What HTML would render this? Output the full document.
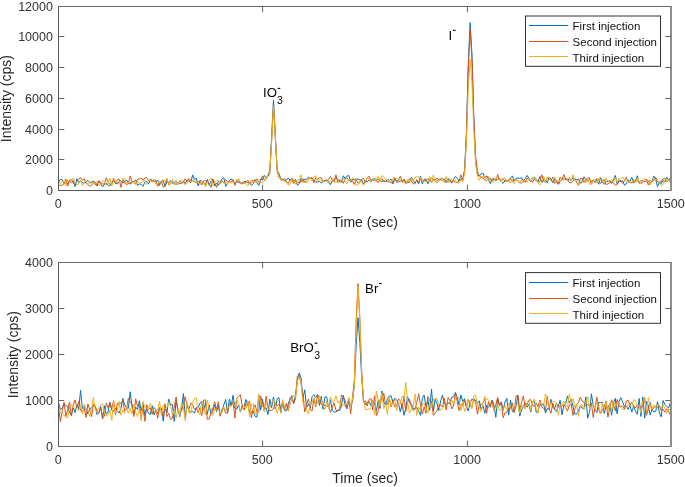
<!DOCTYPE html>
<html><head><meta charset="utf-8"><style>
html,body{margin:0;padding:0;background:#fff;width:685px;height:487px;overflow:hidden;}
svg{display:block;will-change:transform;font-family:"Liberation Sans",sans-serif;}
</style></head><body>
<svg width="685" height="487" viewBox="0 0 685 487">
<rect width="685" height="487" fill="#fff"/>
<clipPath id="c6"><rect x="58.5" y="6.5" width="612.5" height="184.0"/></clipPath>
<g clip-path="url(#c6)" fill="none" stroke-width="1.00" stroke-linejoin="round">
<path d="M58.50,182.29L60.34,179.25L62.17,179.56L64.01,183.55L65.85,183.06L67.69,183.59L69.53,181.06L71.36,182.50L73.20,180.66L75.04,186.62L76.88,178.77L78.71,182.60L80.55,180.81L82.39,182.69L84.22,183.25L86.06,181.31L87.90,180.48L89.74,182.84L91.58,182.72L93.41,180.80L95.25,184.38L97.09,185.86L98.92,181.46L100.76,183.92L102.60,186.79L104.44,184.25L106.28,183.45L108.11,185.12L109.95,185.81L111.79,182.29L113.62,180.31L115.46,182.91L117.30,184.08L119.14,181.49L120.97,180.72L122.81,183.06L124.65,181.12L126.49,179.97L128.32,182.85L130.16,184.24L132.00,181.57L133.84,181.80L135.68,179.85L137.51,185.33L139.35,183.90L141.19,184.30L143.03,186.36L144.86,182.08L146.70,181.16L148.54,184.07L150.38,179.19L152.21,180.48L154.05,180.93L155.89,181.45L157.72,180.18L159.56,185.44L161.40,180.96L163.24,180.99L165.07,186.44L166.91,181.58L168.75,182.95L170.59,180.58L172.43,183.38L174.26,182.42L176.10,181.58L177.94,184.39L179.78,181.00L181.61,182.61L183.45,181.24L185.29,183.57L187.12,179.88L188.96,180.98L190.80,182.78L192.64,174.94L194.47,179.48L196.31,178.25L198.15,185.99L199.99,180.34L201.82,181.30L203.66,182.59L205.50,184.69L207.34,179.48L209.18,185.28L211.01,181.07L212.85,179.38L214.69,186.05L216.53,183.07L218.36,185.38L220.20,181.81L222.04,178.89L223.88,177.72L225.71,186.46L227.55,183.70L229.39,180.76L231.22,178.74L233.06,181.40L234.90,184.09L236.74,181.69L238.57,182.41L240.41,182.84L242.25,184.06L244.09,181.48L245.93,181.67L247.76,182.59L249.60,182.88L251.44,185.33L253.28,183.49L255.11,179.59L256.95,182.77L258.79,185.53L260.62,178.90L262.46,180.12L264.30,175.39L266.14,177.96L267.98,176.33L269.81,173.28L271.65,136.21L273.49,100.03L275.32,134.74L277.16,170.27L279.00,173.44L280.84,179.03L282.68,179.59L284.51,180.77L286.35,179.93L288.19,177.90L290.02,180.29L291.86,178.26L293.70,181.34L295.54,179.63L297.38,185.30L299.21,183.71L301.05,178.55L302.89,181.74L304.73,179.05L306.56,179.13L308.40,177.34L310.24,178.51L312.07,178.04L313.91,180.64L315.75,181.99L317.59,182.06L319.43,181.50L321.26,182.98L323.10,181.64L324.94,180.59L326.77,179.80L328.61,181.16L330.45,184.80L332.29,180.55L334.12,179.86L335.96,177.89L337.80,179.05L339.64,181.86L341.48,182.04L343.31,175.76L345.15,178.64L346.99,176.17L348.82,175.48L350.66,182.26L352.50,179.49L354.34,179.33L356.18,179.09L358.01,179.13L359.85,179.92L361.69,179.98L363.52,183.84L365.36,180.76L367.20,182.10L369.04,180.09L370.88,181.46L372.71,178.96L374.55,178.50L376.39,179.67L378.23,179.65L380.06,180.17L381.90,181.41L383.74,180.76L385.57,181.52L387.41,179.49L389.25,180.35L391.09,179.04L392.93,183.44L394.76,178.34L396.60,182.13L398.44,182.07L400.27,180.83L402.11,181.68L403.95,179.71L405.79,181.70L407.62,182.84L409.46,182.33L411.30,177.36L413.14,180.28L414.98,183.07L416.81,180.36L418.65,183.96L420.49,176.26L422.32,183.89L424.16,179.28L426.00,179.13L427.84,183.72L429.68,179.69L431.51,178.09L433.35,179.30L435.19,179.78L437.02,178.20L438.86,180.01L440.70,179.61L442.54,180.67L444.38,178.93L446.21,182.55L448.05,178.56L449.89,181.54L451.73,182.89L453.56,179.54L455.40,176.49L457.24,178.17L459.07,181.56L460.91,178.69L462.75,180.14L464.59,170.14L466.43,132.90L468.26,64.92L470.10,22.60L471.94,54.09L473.77,115.57L475.61,161.24L477.45,174.85L479.29,176.00L481.12,173.79L482.96,173.11L484.80,177.81L486.64,175.90L488.48,179.44L490.31,183.53L492.15,179.06L493.99,178.57L495.82,180.71L497.66,179.13L499.50,178.57L501.34,181.92L503.18,183.37L505.01,180.51L506.85,180.51L508.69,180.85L510.52,177.78L512.36,176.09L514.20,181.02L516.04,178.46L517.88,177.90L519.71,178.43L521.55,177.66L523.39,180.97L525.23,178.37L527.06,175.42L528.90,178.22L530.74,181.50L532.58,178.68L534.41,177.17L536.25,179.22L538.09,181.37L539.92,176.52L541.76,182.95L543.60,178.92L545.44,180.11L547.27,182.82L549.11,177.27L550.95,179.27L552.79,182.76L554.62,178.69L556.46,181.07L558.30,184.45L560.14,181.66L561.98,179.47L563.81,178.61L565.65,179.69L567.49,179.97L569.33,179.00L571.16,180.60L573.00,177.44L574.84,179.84L576.67,179.54L578.51,179.00L580.35,182.71L582.19,181.94L584.02,176.83L585.86,179.61L587.70,181.06L589.54,179.66L591.38,181.59L593.21,179.87L595.05,182.08L596.89,179.94L598.73,184.24L600.56,177.58L602.40,181.86L604.24,184.35L606.08,181.26L607.91,181.63L609.75,180.46L611.59,183.48L613.42,179.96L615.26,175.39L617.10,183.88L618.94,180.20L620.77,181.72L622.61,180.60L624.45,185.24L626.29,183.75L628.12,180.08L629.96,181.26L631.80,177.45L633.64,182.86L635.48,180.87L637.31,175.79L639.15,183.10L640.99,183.45L642.83,181.49L644.66,181.54L646.50,179.53L648.34,181.21L650.17,183.28L652.01,181.08L653.85,176.08L655.69,178.71L657.52,186.73L659.36,182.03L661.20,183.75L663.04,180.34L664.88,182.20L666.71,177.39L668.55,179.73L670.39,179.85" stroke="#0072BD"/>
<path d="M58.50,185.59L60.34,185.14L62.17,185.37L64.01,183.81L65.85,179.04L67.69,186.06L69.53,180.20L71.36,179.47L73.20,183.19L75.04,183.99L76.88,181.29L78.71,179.58L80.55,177.42L82.39,180.32L84.22,178.71L86.06,183.41L87.90,184.38L89.74,186.33L91.58,185.03L93.41,183.21L95.25,181.93L97.09,185.39L98.92,180.50L100.76,182.61L102.60,183.85L104.44,184.13L106.28,177.73L108.11,181.98L109.95,184.44L111.79,184.57L113.62,178.15L115.46,183.70L117.30,179.64L119.14,179.10L120.97,187.43L122.81,179.27L124.65,182.85L126.49,184.87L128.32,183.62L130.16,176.01L132.00,181.51L133.84,181.39L135.68,184.04L137.51,179.43L139.35,178.92L141.19,178.15L143.03,180.07L144.86,178.02L146.70,177.56L148.54,180.75L150.38,180.35L152.21,181.03L154.05,181.11L155.89,180.39L157.72,186.30L159.56,183.12L161.40,181.25L163.24,187.22L165.07,185.69L166.91,178.73L168.75,184.81L170.59,183.44L172.43,181.51L174.26,183.47L176.10,184.35L177.94,183.56L179.78,183.36L181.61,183.71L183.45,181.95L185.29,178.67L187.12,181.55L188.96,178.64L190.80,180.67L192.64,180.45L194.47,181.02L196.31,183.06L198.15,181.40L199.99,181.68L201.82,184.93L203.66,180.65L205.50,181.04L207.34,181.53L209.18,183.66L211.01,187.43L212.85,179.00L214.69,182.54L216.53,187.38L218.36,180.88L220.20,183.98L222.04,180.79L223.88,182.61L225.71,179.76L227.55,181.84L229.39,181.73L231.22,182.03L233.06,179.54L234.90,185.35L236.74,179.67L238.57,180.79L240.41,183.65L242.25,182.38L244.09,183.40L245.93,182.24L247.76,180.21L249.60,183.94L251.44,180.66L253.28,180.21L255.11,180.90L256.95,178.74L258.79,182.40L260.62,180.39L262.46,175.92L264.30,180.14L266.14,178.60L267.98,175.67L269.81,169.83L271.65,140.33L273.49,103.87L275.32,137.88L277.16,171.65L279.00,177.17L280.84,179.95L282.68,180.09L284.51,178.45L286.35,181.26L288.19,183.46L290.02,179.78L291.86,179.98L293.70,183.60L295.54,180.04L297.38,182.85L299.21,181.83L301.05,182.08L302.89,178.49L304.73,182.28L306.56,181.12L308.40,179.96L310.24,178.01L312.07,177.67L313.91,182.73L315.75,177.66L317.59,179.70L319.43,177.63L321.26,177.96L323.10,181.61L324.94,180.29L326.77,181.06L328.61,179.52L330.45,176.58L332.29,180.25L334.12,181.91L335.96,174.86L337.80,182.67L339.64,180.38L341.48,180.41L343.31,183.30L345.15,178.56L346.99,177.94L348.82,180.57L350.66,180.25L352.50,180.75L354.34,184.43L356.18,179.82L358.01,183.24L359.85,182.58L361.69,179.47L363.52,178.25L365.36,182.37L367.20,177.76L369.04,176.32L370.88,179.99L372.71,180.55L374.55,179.91L376.39,181.30L378.23,182.34L380.06,178.89L381.90,178.72L383.74,181.52L385.57,181.30L387.41,181.80L389.25,181.98L391.09,182.60L392.93,183.83L394.76,178.30L396.60,181.18L398.44,180.22L400.27,176.26L402.11,181.49L403.95,179.05L405.79,183.47L407.62,181.81L409.46,178.79L411.30,180.98L413.14,183.66L414.98,183.90L416.81,179.62L418.65,182.52L420.49,178.84L422.32,179.77L424.16,181.13L426.00,180.55L427.84,178.68L429.68,180.32L431.51,182.56L433.35,179.64L435.19,181.21L437.02,180.93L438.86,179.10L440.70,179.65L442.54,178.09L444.38,180.82L446.21,181.44L448.05,181.17L449.89,179.54L451.73,182.22L453.56,181.22L455.40,182.31L457.24,182.16L459.07,180.80L460.91,174.85L462.75,180.03L464.59,169.80L466.43,134.97L468.26,68.82L470.10,29.50L471.94,58.30L473.77,117.85L475.61,156.18L477.45,170.56L479.29,176.08L481.12,177.26L482.96,178.03L484.80,180.27L486.64,175.91L488.48,177.98L490.31,178.02L492.15,181.74L493.99,178.57L495.82,180.94L497.66,174.39L499.50,180.10L501.34,179.31L503.18,179.05L505.01,181.07L506.85,180.90L508.69,180.92L510.52,178.14L512.36,181.69L514.20,180.42L516.04,179.33L517.88,180.99L519.71,183.13L521.55,182.74L523.39,181.01L525.23,182.24L527.06,177.92L528.90,180.05L530.74,180.14L532.58,182.34L534.41,178.91L536.25,180.89L538.09,182.22L539.92,181.52L541.76,174.76L543.60,181.45L545.44,182.03L547.27,177.52L549.11,178.44L550.95,180.73L552.79,177.02L554.62,183.37L556.46,181.17L558.30,183.76L560.14,177.05L561.98,180.01L563.81,174.55L565.65,179.08L567.49,179.05L569.33,182.65L571.16,182.80L573.00,181.30L574.84,178.24L576.67,182.62L578.51,185.31L580.35,178.49L582.19,178.39L584.02,182.52L585.86,179.53L587.70,178.05L589.54,177.98L591.38,184.14L593.21,180.54L595.05,182.45L596.89,178.61L598.73,180.60L600.56,183.54L602.40,180.65L604.24,179.60L606.08,184.43L607.91,184.04L609.75,182.57L611.59,181.77L613.42,182.40L615.26,185.27L617.10,184.72L618.94,181.33L620.77,180.35L622.61,183.30L624.45,180.96L626.29,177.14L628.12,181.86L629.96,182.41L631.80,183.03L633.64,180.41L635.48,180.98L637.31,180.95L639.15,182.38L640.99,180.64L642.83,180.66L644.66,181.93L646.50,179.04L648.34,185.16L650.17,180.08L652.01,182.00L653.85,179.85L655.69,177.48L657.52,181.67L659.36,182.24L661.20,181.88L663.04,178.74L664.88,178.41L666.71,181.54L668.55,180.48L670.39,177.91" stroke="#D95319"/>
<path d="M58.50,181.46L60.34,183.67L62.17,181.02L64.01,182.28L65.85,185.99L67.69,180.07L69.53,182.60L71.36,180.95L73.20,178.15L75.04,181.76L76.88,184.84L78.71,183.94L80.55,180.03L82.39,185.72L84.22,181.77L86.06,181.51L87.90,185.02L89.74,181.98L91.58,181.09L93.41,184.15L95.25,183.48L97.09,181.12L98.92,185.36L100.76,184.40L102.60,180.18L104.44,182.18L106.28,185.63L108.11,182.35L109.95,177.91L111.79,185.85L113.62,180.50L115.46,180.63L117.30,182.78L119.14,180.98L120.97,183.92L122.81,178.82L124.65,178.42L126.49,184.40L128.32,182.86L130.16,182.07L132.00,183.81L133.84,181.56L135.68,184.76L137.51,181.05L139.35,183.06L141.19,182.49L143.03,181.29L144.86,180.24L146.70,184.64L148.54,180.56L150.38,180.35L152.21,182.64L154.05,178.84L155.89,184.13L157.72,183.63L159.56,181.49L161.40,183.94L163.24,179.17L165.07,181.92L166.91,178.42L168.75,184.80L170.59,184.56L172.43,179.30L174.26,184.78L176.10,179.90L177.94,184.23L179.78,181.76L181.61,179.69L183.45,182.51L185.29,185.01L187.12,183.49L188.96,179.75L190.80,181.93L192.64,180.74L194.47,182.17L196.31,181.71L198.15,182.80L199.99,184.70L201.82,181.12L203.66,181.94L205.50,186.92L207.34,182.35L209.18,180.13L211.01,177.92L212.85,185.48L214.69,182.10L216.53,181.08L218.36,180.62L220.20,183.97L222.04,181.19L223.88,183.32L225.71,182.47L227.55,183.59L229.39,181.66L231.22,183.26L233.06,181.67L234.90,182.56L236.74,180.26L238.57,178.50L240.41,182.55L242.25,184.05L244.09,182.89L245.93,183.59L247.76,186.18L249.60,182.31L251.44,183.49L253.28,180.29L255.11,182.65L256.95,180.19L258.79,180.47L260.62,183.12L262.46,182.14L264.30,181.44L266.14,179.40L267.98,174.15L269.81,172.34L271.65,141.37L273.49,106.17L275.32,136.23L277.16,170.68L279.00,175.55L280.84,179.44L282.68,178.66L284.51,181.85L286.35,181.95L288.19,185.13L290.02,184.15L291.86,179.98L293.70,178.68L295.54,184.25L297.38,180.05L299.21,180.00L301.05,174.86L302.89,182.71L304.73,181.97L306.56,182.85L308.40,178.54L310.24,178.03L312.07,181.06L313.91,176.95L315.75,175.60L317.59,181.50L319.43,179.16L321.26,180.87L323.10,181.88L324.94,181.49L326.77,180.96L328.61,183.37L330.45,180.61L332.29,178.58L334.12,182.58L335.96,181.61L337.80,182.50L339.64,179.53L341.48,180.64L343.31,178.26L345.15,181.13L346.99,183.78L348.82,179.10L350.66,181.09L352.50,177.77L354.34,178.75L356.18,185.44L358.01,184.94L359.85,180.33L361.69,182.13L363.52,185.44L365.36,181.63L367.20,177.44L369.04,178.94L370.88,182.44L372.71,179.74L374.55,178.07L376.39,180.83L378.23,176.32L380.06,182.03L381.90,175.56L383.74,176.87L385.57,179.20L387.41,179.88L389.25,180.32L391.09,182.54L392.93,178.14L394.76,177.47L396.60,178.59L398.44,179.75L400.27,180.15L402.11,182.53L403.95,181.90L405.79,183.72L407.62,179.28L409.46,182.47L411.30,178.46L413.14,181.92L414.98,177.12L416.81,176.78L418.65,176.87L420.49,177.76L422.32,181.09L424.16,181.11L426.00,182.09L427.84,179.64L429.68,176.54L431.51,182.90L433.35,174.86L435.19,181.70L437.02,183.08L438.86,179.61L440.70,177.92L442.54,181.22L444.38,182.74L446.21,176.36L448.05,182.92L449.89,178.10L451.73,180.04L453.56,181.25L455.40,180.28L457.24,182.89L459.07,182.95L460.91,179.62L462.75,181.78L464.59,173.99L466.43,141.76L468.26,89.77L470.10,59.40L471.94,82.78L473.77,130.30L475.61,163.28L477.45,175.20L479.29,180.25L481.12,176.28L482.96,177.15L484.80,176.09L486.64,181.53L488.48,176.53L490.31,180.62L492.15,182.42L493.99,180.32L495.82,177.70L497.66,179.93L499.50,178.94L501.34,182.02L503.18,178.93L505.01,177.79L506.85,182.10L508.69,179.11L510.52,183.17L512.36,179.56L514.20,183.53L516.04,179.17L517.88,180.11L519.71,182.68L521.55,179.27L523.39,182.37L525.23,179.91L527.06,182.20L528.90,178.87L530.74,181.39L532.58,176.81L534.41,179.05L536.25,178.86L538.09,183.15L539.92,184.88L541.76,181.92L543.60,175.92L545.44,182.24L547.27,177.27L549.11,177.19L550.95,181.42L552.79,180.56L554.62,177.07L556.46,180.67L558.30,181.01L560.14,181.40L561.98,179.91L563.81,180.33L565.65,177.24L567.49,179.53L569.33,177.37L571.16,180.36L573.00,174.63L574.84,180.45L576.67,180.55L578.51,182.08L580.35,184.16L582.19,182.30L584.02,179.85L585.86,182.65L587.70,178.50L589.54,184.18L591.38,184.31L593.21,179.80L595.05,179.66L596.89,183.16L598.73,178.12L600.56,177.45L602.40,179.84L604.24,183.65L606.08,177.87L607.91,181.42L609.75,181.20L611.59,179.72L613.42,182.45L615.26,177.42L617.10,182.35L618.94,178.51L620.77,179.21L622.61,176.96L624.45,179.89L626.29,179.10L628.12,182.00L629.96,181.67L631.80,182.55L633.64,179.46L635.48,182.71L637.31,177.79L639.15,181.53L640.99,184.02L642.83,182.86L644.66,178.70L646.50,182.50L648.34,180.07L650.17,185.06L652.01,180.45L653.85,179.74L655.69,180.37L657.52,179.76L659.36,183.84L661.20,185.39L663.04,184.64L664.88,179.75L666.71,180.78L668.55,179.89L670.39,183.03" stroke="#EDB120"/>
</g>
<g fill="none" stroke-width="1">
<line x1="58.0" y1="6.5" x2="672.0" y2="6.5" stroke="#6a6a6a"/>
<line x1="58.0" y1="190.5" x2="672.0" y2="190.5" stroke="#585858"/>
<line x1="58.5" y1="6.5" x2="58.5" y2="190.5" stroke="#585858"/>
<line x1="671.0" y1="6.5" x2="671.0" y2="191.0" stroke="#8e8e8e" stroke-width="2"/>
</g>
<g stroke="#666" stroke-width="1" fill="none">
<line x1="262.60" y1="190.5" x2="262.60" y2="184.7"/>
<line x1="262.60" y1="6.5" x2="262.60" y2="12.3"/>
<line x1="467.40" y1="190.5" x2="467.40" y2="184.7"/>
<line x1="467.40" y1="6.5" x2="467.40" y2="12.3"/>
<line x1="58.5" y1="159.50" x2="64.3" y2="159.50"/>
<line x1="671.0" y1="159.50" x2="665.2" y2="159.50"/>
<line x1="58.5" y1="129.50" x2="64.3" y2="129.50"/>
<line x1="671.0" y1="129.50" x2="665.2" y2="129.50"/>
<line x1="58.5" y1="98.50" x2="64.3" y2="98.50"/>
<line x1="671.0" y1="98.50" x2="665.2" y2="98.50"/>
<line x1="58.5" y1="67.50" x2="64.3" y2="67.50"/>
<line x1="671.0" y1="67.50" x2="665.2" y2="67.50"/>
<line x1="58.5" y1="36.50" x2="64.3" y2="36.50"/>
<line x1="671.0" y1="36.50" x2="665.2" y2="36.50"/>
</g>
<g font-size="12.50" fill="#333">
<text x="58.20" y="208.3" text-anchor="middle">0</text>
<text x="262.30" y="208.3" text-anchor="middle">500</text>
<text x="467.10" y="208.3" text-anchor="middle">1000</text>
<text x="670.70" y="208.3" text-anchor="middle">1500</text>
<text x="52.9" y="194.50" text-anchor="end">0</text>
<text x="52.9" y="163.50" text-anchor="end">2000</text>
<text x="52.9" y="133.50" text-anchor="end">4000</text>
<text x="52.9" y="102.50" text-anchor="end">6000</text>
<text x="52.9" y="71.50" text-anchor="end">8000</text>
<text x="52.9" y="40.50" text-anchor="end">10000</text>
<text x="52.9" y="10.50" text-anchor="end">12000</text>
</g>
<text x="365.1" y="227.3" font-size="14.00" fill="#262626" text-anchor="middle">Time (sec)</text>
<text transform="translate(10.9,98.6) rotate(-90)" font-size="14.00" fill="#262626" text-anchor="middle">Intensity (cps)</text>
<rect x="525.5" y="16.0" width="135" height="50.3" fill="#fff" stroke="#333" stroke-width="1"/>
<line x1="529" y1="25.5" x2="568.3" y2="25.5" stroke="#0072BD" stroke-width="1"/>
<text x="572.6" y="29.6" font-size="11.50" fill="#111">First injection</text>
<line x1="529" y1="41.5" x2="568.3" y2="41.5" stroke="#D95319" stroke-width="1"/>
<text x="572.6" y="45.7" font-size="11.50" fill="#111">Second injection</text>
<line x1="529" y1="56.5" x2="568.3" y2="56.5" stroke="#EDB120" stroke-width="1"/>
<text x="572.6" y="61.6" font-size="11.50" fill="#111">Third injection</text>
<clipPath id="c262"><rect x="58.5" y="262.5" width="612.5" height="184.0"/></clipPath>
<g clip-path="url(#c262)" fill="none" stroke-width="1.00" stroke-linejoin="round">
<path d="M58.50,402.28L60.34,409.39L62.17,408.19L64.01,403.91L65.85,405.56L67.69,406.85L69.53,411.92L71.36,415.30L73.20,407.91L75.04,412.61L76.88,405.52L78.71,408.77L80.55,390.38L82.39,408.47L84.22,406.13L86.06,408.94L87.90,414.01L89.74,408.48L91.58,407.98L93.41,405.50L95.25,406.04L97.09,414.66L98.92,412.49L100.76,406.65L102.60,418.83L104.44,405.73L106.28,414.28L108.11,412.07L109.95,402.20L111.79,410.17L113.62,411.42L115.46,408.33L117.30,410.32L119.14,413.13L120.97,408.49L122.81,398.51L124.65,404.94L126.49,407.49L128.32,408.44L130.16,391.76L132.00,406.49L133.84,414.32L135.68,407.10L137.51,409.51L139.35,400.70L141.19,410.89L143.03,403.15L144.86,415.88L146.70,408.11L148.54,413.52L150.38,414.40L152.21,405.60L154.05,414.95L155.89,410.48L157.72,413.46L159.56,407.65L161.40,408.27L163.24,421.19L165.07,406.02L166.91,412.95L168.75,399.10L170.59,405.04L172.43,404.66L174.26,421.35L176.10,400.43L177.94,409.35L179.78,416.58L181.61,407.91L183.45,393.60L185.29,417.63L187.12,403.72L188.96,410.84L190.80,411.99L192.64,411.15L194.47,413.15L196.31,407.73L198.15,407.38L199.99,403.20L201.82,401.25L203.66,410.06L205.50,402.73L207.34,414.21L209.18,404.82L211.01,413.69L212.85,410.83L214.69,404.71L216.53,411.54L218.36,405.11L220.20,415.06L222.04,411.12L223.88,404.62L225.71,399.54L227.55,413.13L229.39,398.98L231.22,405.64L233.06,395.26L234.90,408.37L236.74,409.31L238.57,404.95L240.41,412.08L242.25,405.78L244.09,406.70L245.93,399.51L247.76,404.51L249.60,412.65L251.44,412.89L253.28,411.02L255.11,416.64L256.95,417.03L258.79,395.05L260.62,410.16L262.46,399.18L264.30,409.58L266.14,407.80L267.98,414.46L269.81,399.06L271.65,407.56L273.49,396.85L275.32,409.04L277.16,398.70L279.00,397.60L280.84,413.02L282.68,402.83L284.51,410.48L286.35,411.07L288.19,403.92L290.02,399.40L291.86,395.68L293.70,403.53L295.54,395.39L297.38,379.47L299.21,372.90L301.05,377.93L302.89,398.58L304.73,389.82L306.56,407.72L308.40,404.06L310.24,408.14L312.07,396.63L313.91,394.69L315.75,397.43L317.59,394.39L319.43,405.45L321.26,396.33L323.10,409.33L324.94,396.85L326.77,397.13L328.61,408.13L330.45,399.87L332.29,410.41L334.12,412.05L335.96,411.95L337.80,410.39L339.64,410.53L341.48,405.09L343.31,395.31L345.15,405.74L346.99,408.81L348.82,400.72L350.66,405.41L352.50,401.46L354.34,385.36L356.18,345.70L358.01,317.70L359.85,342.61L361.69,377.69L363.52,401.51L365.36,404.68L367.20,402.19L369.04,401.61L370.88,405.50L372.71,400.86L374.55,403.86L376.39,410.74L378.23,400.41L380.06,408.41L381.90,391.02L383.74,402.29L385.57,405.30L387.41,399.32L389.25,396.07L391.09,395.80L392.93,402.19L394.76,398.13L396.60,400.06L398.44,403.30L400.27,411.77L402.11,403.65L403.95,415.36L405.79,408.46L407.62,396.57L409.46,402.83L411.30,404.00L413.14,408.39L414.98,408.29L416.81,407.39L418.65,411.13L420.49,415.36L422.32,398.33L424.16,395.03L426.00,407.16L427.84,399.73L429.68,410.30L431.51,389.23L433.35,411.12L435.19,398.98L437.02,403.51L438.86,410.54L440.70,400.89L442.54,395.06L444.38,403.77L446.21,404.01L448.05,403.74L449.89,403.14L451.73,397.19L453.56,396.97L455.40,392.45L457.24,397.41L459.07,404.88L460.91,394.98L462.75,401.36L464.59,398.71L466.43,406.52L468.26,410.99L470.10,402.75L471.94,399.04L473.77,400.38L475.61,400.25L477.45,403.33L479.29,400.84L481.12,409.14L482.96,405.66L484.80,413.27L486.64,405.44L488.48,406.92L490.31,405.12L492.15,400.00L493.99,405.31L495.82,417.32L497.66,398.64L499.50,405.21L501.34,402.03L503.18,410.47L505.01,402.01L506.85,398.39L508.69,415.14L510.52,400.06L512.36,411.53L514.20,410.66L516.04,406.57L517.88,395.52L519.71,416.16L521.55,409.96L523.39,406.36L525.23,403.12L527.06,407.18L528.90,404.30L530.74,412.07L532.58,402.48L534.41,400.98L536.25,412.42L538.09,410.76L539.92,404.47L541.76,404.80L543.60,403.76L545.44,413.05L547.27,408.65L549.11,409.17L550.95,399.35L552.79,407.06L554.62,409.24L556.46,411.38L558.30,406.55L560.14,400.21L561.98,414.82L563.81,405.94L565.65,403.84L567.49,395.95L569.33,402.93L571.16,399.34L573.00,406.32L574.84,413.96L576.67,414.14L578.51,410.39L580.35,405.83L582.19,408.09L584.02,409.05L585.86,396.91L587.70,418.12L589.54,412.16L591.38,393.80L593.21,404.92L595.05,410.14L596.89,412.56L598.73,402.27L600.56,402.83L602.40,402.24L604.24,413.48L606.08,405.85L607.91,407.74L609.75,404.20L611.59,415.19L613.42,403.39L615.26,398.37L617.10,413.88L618.94,401.89L620.77,397.62L622.61,401.82L624.45,406.80L626.29,405.84L628.12,409.37L629.96,405.35L631.80,412.09L633.64,406.23L635.48,411.02L637.31,414.28L639.15,398.49L640.99,416.43L642.83,396.95L644.66,418.12L646.50,401.49L648.34,405.50L650.17,415.16L652.01,409.22L653.85,411.96L655.69,411.60L657.52,401.78L659.36,412.80L661.20,416.81L663.04,400.52L664.88,404.41L666.71,406.49L668.55,408.02L670.39,402.76" stroke="#0072BD"/>
<path d="M58.50,405.47L60.34,421.56L62.17,411.54L64.01,402.25L65.85,416.50L67.69,409.63L69.53,401.98L71.36,416.09L73.20,405.61L75.04,399.85L76.88,407.53L78.71,401.27L80.55,410.62L82.39,412.11L84.22,407.42L86.06,417.49L87.90,404.00L89.74,409.64L91.58,416.71L93.41,403.88L95.25,406.28L97.09,411.59L98.92,413.17L100.76,407.86L102.60,418.19L104.44,415.96L106.28,403.02L108.11,407.92L109.95,403.13L111.79,408.54L113.62,400.60L115.46,415.08L117.30,403.03L119.14,404.30L120.97,403.09L122.81,400.68L124.65,411.03L126.49,408.92L128.32,398.36L130.16,402.20L132.00,403.71L133.84,416.50L135.68,398.75L137.51,406.31L139.35,404.07L141.19,418.19L143.03,407.29L144.86,421.39L146.70,404.84L148.54,408.93L150.38,407.77L152.21,414.28L154.05,407.38L155.89,409.85L157.72,418.19L159.56,407.60L161.40,410.28L163.24,417.01L165.07,403.77L166.91,416.50L168.75,413.25L170.59,419.36L172.43,418.39L174.26,406.88L176.10,397.01L177.94,412.44L179.78,410.57L181.61,410.77L183.45,403.41L185.29,396.78L187.12,406.72L188.96,409.48L190.80,403.05L192.64,404.57L194.47,409.58L196.31,407.70L198.15,412.83L199.99,407.44L201.82,415.49L203.66,399.99L205.50,399.93L207.34,419.25L209.18,419.04L211.01,412.52L212.85,408.52L214.69,401.78L216.53,409.71L218.36,401.85L220.20,416.26L222.04,409.07L223.88,408.37L225.71,413.25L227.55,412.57L229.39,403.73L231.22,405.42L233.06,401.80L234.90,418.21L236.74,398.25L238.57,396.54L240.41,394.76L242.25,406.80L244.09,410.15L245.93,403.15L247.76,405.46L249.60,400.95L251.44,417.84L253.28,408.12L255.11,404.84L256.95,411.81L258.79,411.86L260.62,395.94L262.46,402.88L264.30,411.38L266.14,396.22L267.98,407.93L269.81,410.79L271.65,410.24L273.49,409.08L275.32,402.52L277.16,405.77L279.00,404.08L280.84,408.17L282.68,401.98L284.51,409.58L286.35,403.30L288.19,410.79L290.02,397.84L291.86,398.88L293.70,403.21L295.54,398.40L297.38,376.21L299.21,374.74L301.05,383.37L302.89,395.21L304.73,411.93L306.56,404.72L308.40,399.04L310.24,409.97L312.07,411.00L313.91,398.51L315.75,406.91L317.59,394.18L319.43,400.20L321.26,404.32L323.10,405.43L324.94,405.46L326.77,406.04L328.61,407.14L330.45,412.35L332.29,407.38L334.12,402.77L335.96,410.37L337.80,410.85L339.64,408.57L341.48,395.17L343.31,396.64L345.15,400.88L346.99,407.25L348.82,398.71L350.66,413.74L352.50,397.07L354.34,379.59L356.18,319.50L358.01,283.66L359.85,318.53L361.69,371.29L363.52,401.68L365.36,400.72L367.20,406.10L369.04,399.54L370.88,398.30L372.71,409.98L374.55,395.77L376.39,415.36L378.23,410.84L380.06,399.36L381.90,399.33L383.74,393.01L385.57,404.94L387.41,404.17L389.25,399.11L391.09,406.95L392.93,400.72L394.76,406.99L396.60,406.06L398.44,398.91L400.27,400.55L402.11,408.59L403.95,396.08L405.79,411.61L407.62,401.39L409.46,399.47L411.30,406.23L413.14,410.53L414.98,409.27L416.81,402.61L418.65,393.81L420.49,405.03L422.32,414.11L424.16,406.70L426.00,413.22L427.84,396.51L429.68,400.67L431.51,401.00L433.35,415.34L435.19,412.78L437.02,410.61L438.86,405.20L440.70,405.16L442.54,407.06L444.38,398.43L446.21,409.96L448.05,397.57L449.89,400.61L451.73,408.99L453.56,406.10L455.40,393.24L457.24,401.59L459.07,410.59L460.91,404.51L462.75,405.81L464.59,400.02L466.43,407.57L468.26,399.37L470.10,405.80L471.94,407.50L473.77,398.48L475.61,402.47L477.45,414.17L479.29,403.74L481.12,404.82L482.96,403.03L484.80,398.52L486.64,413.31L488.48,401.79L490.31,407.41L492.15,400.95L493.99,410.57L495.82,404.56L497.66,397.41L499.50,406.08L501.34,401.75L503.18,417.81L505.01,412.68L506.85,412.29L508.69,408.13L510.52,407.90L512.36,402.78L514.20,412.78L516.04,395.87L517.88,395.37L519.71,410.11L521.55,402.34L523.39,395.98L525.23,408.18L527.06,404.98L528.90,400.24L530.74,399.67L532.58,404.81L534.41,406.74L536.25,403.22L538.09,406.70L539.92,400.01L541.76,407.22L543.60,408.22L545.44,410.75L547.27,396.50L549.11,408.65L550.95,413.20L552.79,403.20L554.62,409.30L556.46,402.90L558.30,406.95L560.14,406.03L561.98,406.23L563.81,404.62L565.65,407.28L567.49,411.16L569.33,404.98L571.16,403.75L573.00,415.43L574.84,408.69L576.67,404.85L578.51,402.26L580.35,397.07L582.19,401.27L584.02,402.41L585.86,405.89L587.70,404.42L589.54,406.73L591.38,403.04L593.21,417.47L595.05,407.14L596.89,397.28L598.73,409.58L600.56,413.99L602.40,409.62L604.24,407.16L606.08,400.92L607.91,417.11L609.75,407.90L611.59,399.70L613.42,404.24L615.26,410.98L617.10,399.49L618.94,405.91L620.77,407.01L622.61,406.08L624.45,409.15L626.29,401.20L628.12,400.27L629.96,405.13L631.80,402.37L633.64,406.06L635.48,408.07L637.31,405.61L639.15,408.16L640.99,406.63L642.83,407.01L644.66,398.40L646.50,415.20L648.34,408.62L650.17,402.40L652.01,410.16L653.85,407.45L655.69,406.36L657.52,407.10L659.36,405.70L661.20,410.67L663.04,409.06L664.88,412.28L666.71,408.73L668.55,410.98L670.39,415.31" stroke="#D95319"/>
<path d="M58.50,407.07L60.34,412.78L62.17,412.53L64.01,415.52L65.85,416.93L67.69,418.12L69.53,407.25L71.36,403.98L73.20,407.57L75.04,408.39L76.88,408.35L78.71,410.56L80.55,404.74L82.39,413.99L84.22,404.21L86.06,410.71L87.90,410.17L89.74,416.35L91.58,409.45L93.41,397.17L95.25,410.24L97.09,411.97L98.92,407.78L100.76,404.61L102.60,404.34L104.44,413.54L106.28,416.08L108.11,415.43L109.95,410.15L111.79,420.47L113.62,401.63L115.46,413.36L117.30,411.02L119.14,401.24L120.97,415.21L122.81,409.80L124.65,413.41L126.49,406.71L128.32,413.38L130.16,408.40L132.00,414.12L133.84,404.57L135.68,412.59L137.51,416.57L139.35,408.40L141.19,420.93L143.03,401.36L144.86,407.35L146.70,408.01L148.54,409.14L150.38,403.26L152.21,409.49L154.05,410.79L155.89,412.77L157.72,408.64L159.56,401.23L161.40,415.41L163.24,405.21L165.07,408.82L166.91,407.47L168.75,401.85L170.59,406.21L172.43,415.33L174.26,410.43L176.10,417.78L177.94,409.16L179.78,415.34L181.61,402.12L183.45,407.59L185.29,421.11L187.12,402.54L188.96,412.63L190.80,413.22L192.64,403.19L194.47,398.39L196.31,397.91L198.15,412.25L199.99,414.86L201.82,401.85L203.66,407.20L205.50,414.97L207.34,400.10L209.18,409.40L211.01,407.97L212.85,415.29L214.69,409.03L216.53,409.95L218.36,409.59L220.20,413.56L222.04,412.15L223.88,407.03L225.71,410.06L227.55,407.52L229.39,406.71L231.22,406.30L233.06,403.63L234.90,405.97L236.74,399.01L238.57,403.36L240.41,411.56L242.25,408.27L244.09,405.59L245.93,408.82L247.76,400.65L249.60,416.97L251.44,404.55L253.28,403.84L255.11,413.21L256.95,413.81L258.79,394.36L260.62,404.26L262.46,404.75L264.30,411.33L266.14,401.78L267.98,408.80L269.81,408.54L271.65,402.91L273.49,399.50L275.32,405.70L277.16,413.41L279.00,406.13L280.84,413.31L282.68,399.62L284.51,407.66L286.35,410.56L288.19,409.67L290.02,405.22L291.86,399.98L293.70,395.25L295.54,397.35L297.38,381.14L299.21,376.58L301.05,382.01L302.89,402.88L304.73,401.37L306.56,409.77L308.40,413.80L310.24,404.06L312.07,402.77L313.91,397.66L315.75,405.28L317.59,402.99L319.43,395.77L321.26,400.08L323.10,405.44L324.94,409.53L326.77,400.70L328.61,407.77L330.45,396.69L332.29,401.98L334.12,401.38L335.96,395.83L337.80,403.16L339.64,400.92L341.48,407.73L343.31,404.19L345.15,403.36L346.99,404.89L348.82,397.40L350.66,406.87L352.50,399.05L354.34,385.26L356.18,326.48L358.01,286.42L359.85,319.39L361.69,374.21L363.52,399.58L365.36,409.46L367.20,409.62L369.04,409.02L370.88,408.25L372.71,400.12L374.55,414.69L376.39,391.02L378.23,400.19L380.06,405.79L381.90,393.04L383.74,408.86L385.57,403.71L387.41,414.54L389.25,396.71L391.09,406.12L392.93,403.25L394.76,399.88L396.60,410.98L398.44,402.55L400.27,403.64L402.11,396.33L403.95,398.91L405.79,382.56L407.62,402.20L409.46,413.28L411.30,409.32L413.14,406.39L414.98,393.73L416.81,415.36L418.65,407.00L420.49,410.29L422.32,404.48L424.16,403.30L426.00,408.43L427.84,412.93L429.68,402.76L431.51,407.68L433.35,399.63L435.19,399.01L437.02,398.30L438.86,406.74L440.70,410.19L442.54,408.36L444.38,404.84L446.21,403.13L448.05,402.68L449.89,402.85L451.73,399.70L453.56,404.24L455.40,398.09L457.24,397.53L459.07,397.63L460.91,410.47L462.75,402.19L464.59,411.35L466.43,407.63L468.26,399.49L470.10,401.12L471.94,408.90L473.77,395.98L475.61,394.95L477.45,405.76L479.29,406.35L481.12,411.52L482.96,403.72L484.80,396.56L486.64,399.27L488.48,399.84L490.31,402.99L492.15,404.53L493.99,409.96L495.82,407.39L497.66,404.59L499.50,410.25L501.34,409.96L503.18,409.81L505.01,405.00L506.85,409.46L508.69,403.62L510.52,409.12L512.36,410.01L514.20,406.45L516.04,405.12L517.88,403.67L519.71,413.47L521.55,405.57L523.39,405.54L525.23,409.12L527.06,402.51L528.90,400.38L530.74,410.65L532.58,402.38L534.41,398.99L536.25,409.31L538.09,413.39L539.92,401.55L541.76,404.86L543.60,406.17L545.44,393.78L547.27,399.69L549.11,407.40L550.95,402.36L552.79,401.84L554.62,400.94L556.46,402.89L558.30,415.41L560.14,405.08L561.98,405.23L563.81,401.06L565.65,404.96L567.49,407.00L569.33,393.78L571.16,402.67L573.00,398.73L574.84,406.55L576.67,404.57L578.51,416.48L580.35,405.28L582.19,404.87L584.02,409.28L585.86,403.63L587.70,396.62L589.54,408.66L591.38,406.39L593.21,404.46L595.05,408.78L596.89,401.56L598.73,406.02L600.56,413.94L602.40,403.20L604.24,410.00L606.08,402.09L607.91,410.56L609.75,403.27L611.59,411.00L613.42,401.99L615.26,405.01L617.10,403.41L618.94,402.85L620.77,407.27L622.61,409.43L624.45,409.68L626.29,407.02L628.12,404.50L629.96,406.08L631.80,406.63L633.64,399.64L635.48,400.72L637.31,406.09L639.15,405.60L640.99,412.95L642.83,400.97L644.66,397.15L646.50,411.96L648.34,397.64L650.17,406.15L652.01,409.28L653.85,404.80L655.69,407.69L657.52,405.05L659.36,405.33L661.20,408.34L663.04,404.65L664.88,408.38L666.71,413.31L668.55,409.01L670.39,409.46" stroke="#EDB120"/>
</g>
<g fill="none" stroke-width="1">
<line x1="58.0" y1="262.5" x2="672.0" y2="262.5" stroke="#6a6a6a"/>
<line x1="58.0" y1="446.5" x2="672.0" y2="446.5" stroke="#6a6a6a"/>
<line x1="58.5" y1="262.5" x2="58.5" y2="446.5" stroke="#585858"/>
<line x1="671.0" y1="262.5" x2="671.0" y2="447.0" stroke="#8e8e8e" stroke-width="2"/>
</g>
<g stroke="#666" stroke-width="1" fill="none">
<line x1="262.60" y1="446.5" x2="262.60" y2="440.7"/>
<line x1="262.60" y1="262.5" x2="262.60" y2="268.3"/>
<line x1="467.40" y1="446.5" x2="467.40" y2="440.7"/>
<line x1="467.40" y1="262.5" x2="467.40" y2="268.3"/>
<line x1="58.5" y1="400.50" x2="64.3" y2="400.50"/>
<line x1="671.0" y1="400.50" x2="665.2" y2="400.50"/>
<line x1="58.5" y1="354.50" x2="64.3" y2="354.50"/>
<line x1="671.0" y1="354.50" x2="665.2" y2="354.50"/>
<line x1="58.5" y1="308.50" x2="64.3" y2="308.50"/>
<line x1="671.0" y1="308.50" x2="665.2" y2="308.50"/>
</g>
<g font-size="12.50" fill="#333">
<text x="58.20" y="464.3" text-anchor="middle">0</text>
<text x="262.30" y="464.3" text-anchor="middle">500</text>
<text x="467.10" y="464.3" text-anchor="middle">1000</text>
<text x="670.70" y="464.3" text-anchor="middle">1500</text>
<text x="52.9" y="450.50" text-anchor="end">0</text>
<text x="52.9" y="404.50" text-anchor="end">1000</text>
<text x="52.9" y="358.50" text-anchor="end">2000</text>
<text x="52.9" y="312.50" text-anchor="end">3000</text>
<text x="52.9" y="266.50" text-anchor="end">4000</text>
</g>
<text x="365.1" y="483.3" font-size="14.00" fill="#262626" text-anchor="middle">Time (sec)</text>
<text transform="translate(17.5,354.6) rotate(-90)" font-size="14.00" fill="#262626" text-anchor="middle">Intensity (cps)</text>
<rect x="525.5" y="272.6" width="135" height="50.7" fill="#fff" stroke="#333" stroke-width="1"/>
<line x1="529" y1="282.5" x2="568.3" y2="282.5" stroke="#0072BD" stroke-width="1"/>
<text x="572.6" y="286.5" font-size="11.50" fill="#111">First injection</text>
<line x1="529" y1="298.5" x2="568.3" y2="298.5" stroke="#D95319" stroke-width="1"/>
<text x="572.6" y="302.6" font-size="11.50" fill="#111">Second injection</text>
<line x1="529" y1="313.5" x2="568.3" y2="313.5" stroke="#EDB120" stroke-width="1"/>
<text x="572.6" y="318.5" font-size="11.50" fill="#111">Third injection</text>
<g font-size="13.20" fill="#000">
<text x="263.1" y="97.3">IO</text><text x="277.00" y="103.60" font-size="10.5">3</text><rect x="277.70" y="87.85" width="2.6" height="1.1"/>
<text x="448.5" y="39.5">I</text><rect x="453.00" y="29.80" width="2.6" height="1.1"/>
<text x="365.1" y="292.6">Br</text><rect x="379.00" y="282.95" width="2.6" height="1.1"/>
<text x="290.2" y="352.4">BrO</text><text x="314.20" y="358.60" font-size="10.5">3</text><rect x="314.60" y="342.65" width="2.7" height="1.1"/>
</g>
</svg>
</body></html>
